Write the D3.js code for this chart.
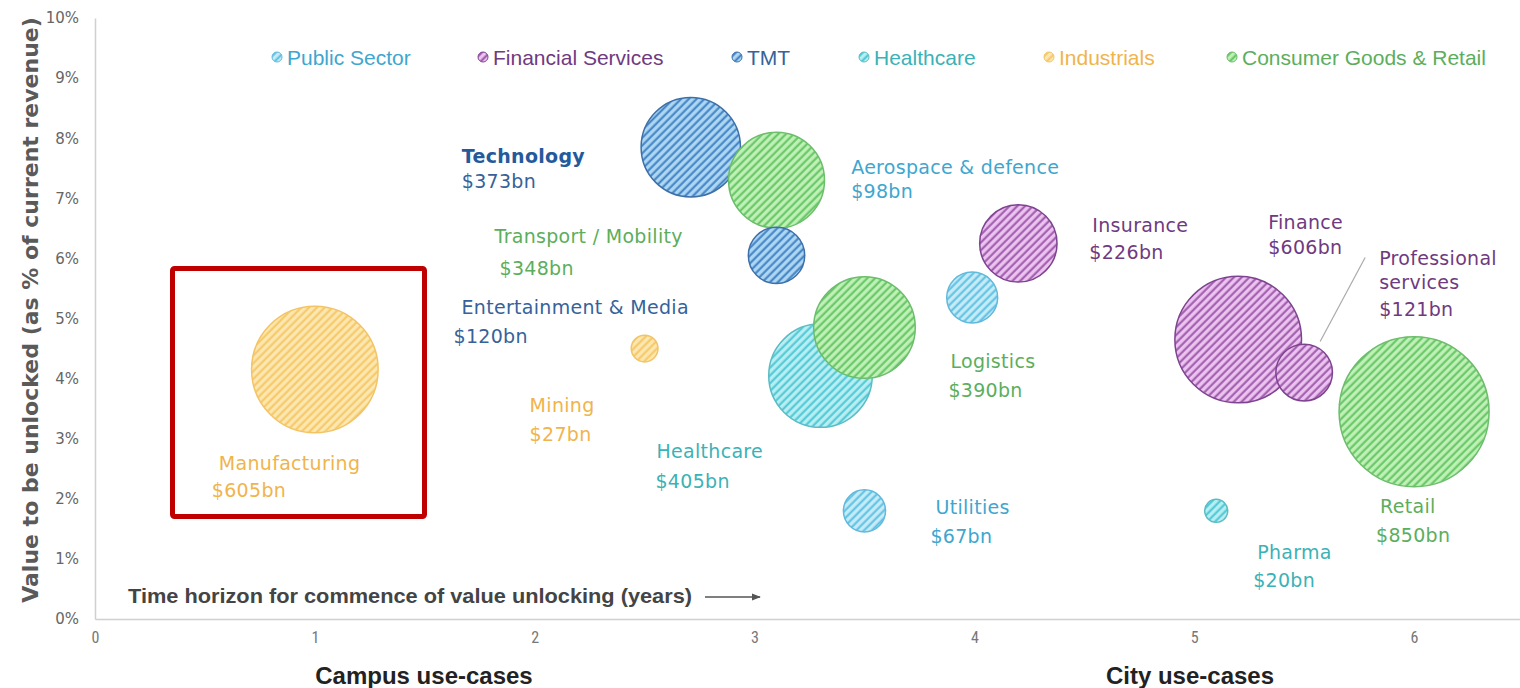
<html>
<head>
  <meta charset="utf-8">
  <title>bubbles</title>
  <script src="https://d3js.org/d3.v7.min.js"></script>
  <style>
    body { margin: 0; background: #fff; }
  </style>
</head>
<body>
<script>
// ---- data ----
var sectors = ["Public Sector", "Financial Services", "TMT", "Healthcare", "Industrials", "Consumer Goods & Retail"];

var names = ["Manufacturing", "Mining", "Technology", "Transport / Mobility", "Entertainment & Media",
  "Healthcare", "Logistics", "Aerospace & defence", "Utilities", "Insurance", "Finance",
  "Professional services", "Retail", "Pharma"];
var sectorOf = ["Industrials", "Industrials", "TMT", "Consumer Goods & Retail", "TMT",
  "Healthcare", "Consumer Goods & Retail", "Public Sector", "Public Sector", "Financial Services", "Financial Services",
  "Financial Services", "Consumer Goods & Retail", "Healthcare"];
var years = [1.0, 2.5, 2.71, 3.1, 3.1, 3.3, 3.5, 3.99, 3.5, 4.2, 5.2, 5.5, 6.0, 5.1];
var valuePct = [4.15, 4.5, 7.85, 7.3, 6.05, 4.05, 4.85, 5.35, 1.8, 6.25, 4.65, 4.1, 3.45, 1.8];
var valueBn = [605, 27, 373, 348, 120, 405, 390, 98, 67, 226, 606, 121, 850, 20];

var xTicks = [0, 1, 2, 3, 4, 5, 6];
var yTicks = [0, 1, 2, 3, 4, 5, 6, 7, 8, 9, 10];
var zones = ["Campus use-cases", "City use-cases"];

// ---- styles ----
var style = {
  "Public Sector":           {bg: "#c4ebf7", stripe: "#5cc0e2", edge: "#62b9dc", text: "#3ea6cf"},
  "Financial Services":      {bg: "#ecc3f0", stripe: "#9b57a8", edge: "#7e4390", text: "#6f3a80"},
  "TMT":                     {bg: "#acd6f2", stripe: "#3f80c4", edge: "#3d6fa8", text: "#36629a"},
  "Healthcare":              {bg: "#b6eef3", stripe: "#4cc6d2", edge: "#5bbcc4", text: "#3bb2b6"},
  "Industrials":             {bg: "#fde7b0", stripe: "#f6c764", edge: "#f3c466", text: "#f0b44c"},
  "Consumer Goods & Retail": {bg: "#bff0b6", stripe: "#62c462", edge: "#6cbd6c", text: "#5cae5c"}
};

var sans = "'Liberation Sans', Arial, sans-serif";

// label layout: per line [text, dx, dy] from bubble centre (text left edge, text middle)
var labelLines = [
  [["Manufacturing", -96, 93], ["$605bn", -103, 120]],
  [["Mining", -115, 56], ["$27bn", -115, 85]],
  [["Technology", -229, 9, true], ["$373bn", -229, 34]],
  [["Transport / Mobility", -282, 56], ["$348bn", -277, 88]],
  [["Entertainment & Media", -315, 52], ["$120bn", -323, 81]],
  [["Healthcare", -164, 75], ["$405bn", -165, 105]],
  [["Logistics", 86, 33], ["$390bn", 84, 62]],
  [["Aerospace & defence", -121, -130], ["$98bn", -121, -106]],
  [["Utilities", 71, -4], ["$67bn", 66, 25]],
  [["Insurance", 74, -18], ["$226bn", 71, 9]],
  [["Finance", 30, -118], ["$606bn", 30, -93]],
  [["Professional", 75, -115], ["services", 75, -91], ["$121bn", 75, -64]],
  [["Retail", -34, 94], ["$850bn", -38, 123]],
  [["Pharma", 41, 41], ["$20bn", 37, 69]]
];

var width = 1520, height = 688;

var svg = d3.select("body").append("svg")
  .attr("width", width).attr("height", height)
  .style("font-family", "'DejaVu Sans', sans-serif");

var x = d3.scaleLinear().domain([0, 6.5]).range([95, 1524]);
var y = d3.scaleLinear().domain([0, 10]).range([619, 18]);
var r = d3.scaleSqrt().domain([0, 850]).range([0, 75]);

// hatch patterns
var defs = svg.append("defs");
sectors.forEach(function(s, i){
  var p = defs.append("pattern")
    .attr("id", "hatch" + i)
    .attr("patternUnits", "userSpaceOnUse")
    .attr("width", 5.5).attr("height", 5.5)
    .attr("patternTransform", "rotate(45)");
  p.append("rect").attr("width", 5.5).attr("height", 5.5).attr("fill", style[s].bg);
  p.append("line").attr("x1", 1.5).attr("x2", 1.5).attr("y1", 0).attr("y2", 5.5)
    .attr("stroke", style[s].stripe).attr("stroke-width", 2);
});

// axes
var yAxis = svg.append("g")
  .attr("transform", "translate(" + x(0) + ",0)")
  .call(d3.axisLeft(y).tickValues(yTicks).tickSize(0).tickPadding(16)
    .tickFormat(function(d){ return d + "%"; }));
yAxis.select(".domain").attr("stroke", "#d0d0d0").attr("stroke-width", 1.5);
yAxis.selectAll("text").attr("font-size", 15).attr("fill", "#666")
  .style("font-family", "'DejaVu Sans', sans-serif");

var xAxis = svg.append("g")
  .attr("transform", "translate(0," + y(0) + ")")
  .call(d3.axisBottom(x).tickValues(xTicks).tickSize(0).tickPadding(13)
    .tickFormat(d3.format("d")));
xAxis.select(".domain").attr("stroke", "#d0d0d0").attr("stroke-width", 1.5);
xAxis.selectAll("text").attr("font-size", 16).attr("fill", "#777")
  .style("font-family", "'Roboto Condensed', 'Liberation Sans Narrow', sans-serif");

// axis titles
svg.append("text")
  .attr("transform", "translate(30," + 310 + ") rotate(-90)")
  .attr("text-anchor", "middle").attr("dominant-baseline", "central")
  .attr("font-size", 22).attr("font-weight", "bold").attr("fill", "#5a5a5a")
  .text("Value to be unlocked (as % of current revenue)");

svg.append("text")
  .attr("x", 128).attr("y", 595).attr("dominant-baseline", "central")
  .attr("font-size", 21).attr("font-weight", "bold").attr("fill", "#444")
  .attr("textLength", 564).attr("lengthAdjust", "spacingAndGlyphs")
  .style("font-family", sans)
  .text("Time horizon for commence of value unlocking (years)");

svg.append("defs").append("marker")
  .attr("id", "arrow").attr("viewBox", "0 0 10 10").attr("refX", 9).attr("refY", 5)
  .attr("markerWidth", 6).attr("markerHeight", 6).attr("orient", "auto")
  .append("path").attr("d", "M0,1L10,5L0,9Z").attr("fill", "#555");
svg.append("line")
  .attr("x1", 705).attr("x2", 760).attr("y1", 597).attr("y2", 597)
  .attr("stroke", "#555").attr("stroke-width", 1.5).attr("marker-end", "url(#arrow)");

svg.selectAll(".zone").data(zones).enter()
  .append("text")
  .attr("x", function(d, i){ return i ? 1190 : 424; })
  .attr("y", 675).attr("text-anchor", "middle").attr("dominant-baseline", "central")
  .attr("font-size", 24).attr("font-weight", "bold").attr("fill", "#222")
  .style("font-family", sans)
  .text(function(d){ return d; });

// legend
var legendX = [277, 483, 737, 864, 1049, 1232];
var lg = svg.selectAll(".legend").data(sectors).enter().append("g")
  .attr("transform", function(d, i){ return "translate(" + legendX[i] + ",57)"; });
lg.append("circle").attr("r", 5)
  .attr("fill", function(d){ return "url(#hatch" + sectors.indexOf(d) + ")"; })
  .attr("stroke", function(d){ return style[d].edge; }).attr("stroke-width", 1);
lg.append("text").attr("x", 10).attr("dominant-baseline", "central")
  .attr("font-size", 21).attr("fill", function(d){ return style[d].text; })
  .style("font-family", sans)
  .text(function(d){ return d; });

// bubbles
var data = names.map(function(n, i){
  return {name: n, sector: sectorOf[i], yr: years[i], pct: valuePct[i], bn: valueBn[i], lines: labelLines[i]};
});

svg.selectAll(".bubble").data(data).enter().append("circle")
  .attr("class", "bubble")
  .attr("cx", function(d){ return x(d.yr); })
  .attr("cy", function(d){ return y(d.pct); })
  .attr("r", function(d){ return r(d.bn); })
  .attr("fill", function(d){ return "url(#hatch" + sectors.indexOf(d.sector) + ")"; })
  .attr("stroke", function(d){ return style[d.sector].edge; })
  .attr("stroke-width", 1.5);

// leader line for professional services
var ps = data[11];
svg.append("line")
  .attr("x1", x(ps.yr) + 61).attr("y1", y(ps.pct) - 115)
  .attr("x2", x(ps.yr) + 16).attr("y2", y(ps.pct) - 31)
  .attr("stroke", "#aaa").attr("stroke-width", 1.2);

// labels
data.forEach(function(d){
  d.lines.forEach(function(l){
    svg.append("text")
      .attr("x", x(d.yr) + l[1]).attr("y", y(d.pct) + l[2])
      .attr("dominant-baseline", "central")
      .attr("font-size", 19)
      .attr("letter-spacing", 0.3)
      .attr("font-weight", l[3] ? "bold" : "normal")
      .attr("fill", l[3] ? "#245a9c" : style[d.sector].text)
      .text(l[0]);
  });
});

// highlight box
svg.append("rect")
  .attr("x", 172.5).attr("y", 268.5).attr("width", 252).attr("height", 248)
  .attr("rx", 2)
  .attr("fill", "none").attr("stroke", "#c00000").attr("stroke-width", 5);
</script>
</body>
</html>
